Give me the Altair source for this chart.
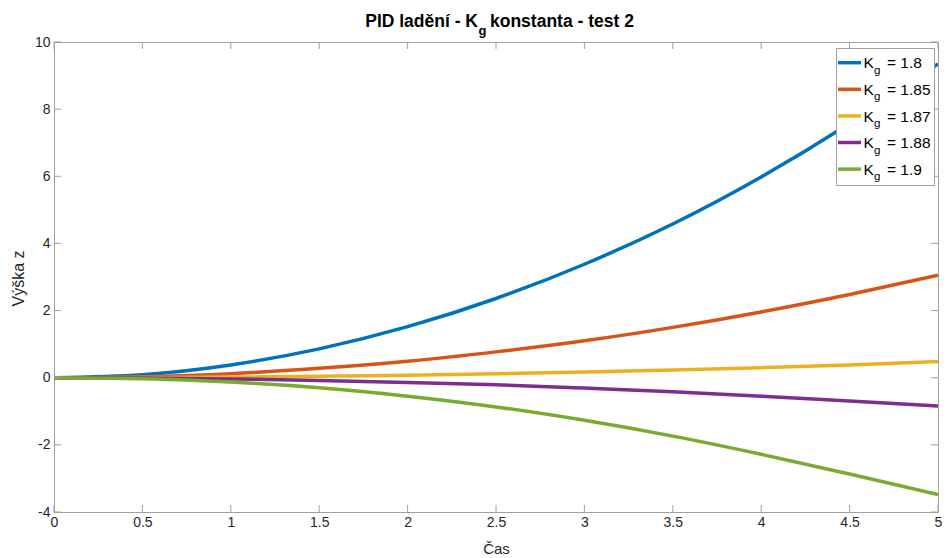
import altair as alt
import pandas as pd

# ---------------- data ----------------
t_values = [0, 0.5, 1, 1.5, 2, 2.5, 3, 3.5, 4, 4.5, 5]
kg_labels = ["1.8", "1.85", "1.87", "1.88", "1.9"]
z_kg_1_8 = [0, 0.09, 0.38, 0.86, 1.52, 2.36, 3.38, 4.58, 5.98, 7.57, 9.35]
z_kg_1_85 = [0, 0.03, 0.12, 0.28, 0.49, 0.77, 1.10, 1.50, 1.96, 2.48, 3.05]
z_kg_1_87 = [0, 0.005, 0.02, 0.04, 0.075, 0.12, 0.17, 0.23, 0.30, 0.38, 0.48]
z_kg_1_88 = [0, -0.01, -0.035, -0.08, -0.14, -0.21, -0.31, -0.42, -0.55, -0.69, -0.84]
z_kg_1_9 = [0, -0.03, -0.13, -0.30, -0.55, -0.87, -1.27, -1.74, -2.28, -2.87, -3.48]
series = [z_kg_1_8, z_kg_1_85, z_kg_1_87, z_kg_1_88, z_kg_1_9]
colors = ["#0072BD", "#D95319", "#EDB120", "#7E2F8E", "#77AC30"]
x_ticks = [0, 0.5, 1, 1.5, 2, 2.5, 3, 3.5, 4, 4.5, 5]
y_ticks = [-4, -2, 0, 2, 4, 6, 8, 10]

rows = []
for lab, ser in zip(kg_labels, series):
    for ti, zi in zip(t_values, ser):
        rows.append({"t": ti, "z": zi, "kg": lab})
df = pd.DataFrame(rows)

W, H = 884, 470
FONT = "Liberation Sans"
BOX = "#a0a0a0"
TXT = "#262626"

xscale = alt.Scale(domain=[0, 5], nice=False, zero=False)
yscale = alt.Scale(domain=[-4, 10], nice=False, zero=False)
xaxis = alt.Axis(values=x_ticks, title="Čas", labelPadding=3, labelFlush=False,
                 labelExpr="'' + datum.value",
                 titleY=41, titleBaseline="alphabetic")
yaxis = alt.Axis(values=y_ticks, title="Výška z", labelPadding=4, labelFlush=False,
                 labelExpr="'' + datum.value", titleFontSize=16,
                 titleX=-36, titleY=236, titleBaseline="middle")

lines = alt.Chart(df).mark_line(strokeWidth=3.5, interpolate="monotone", clip=True).encode(
    x=alt.X("t:Q", scale=xscale, axis=xaxis),
    y=alt.Y("z:Q", scale=yscale, axis=yaxis),
    color=alt.Color("kg:N", scale=alt.Scale(domain=kg_labels, range=colors), legend=None),
)

xt = pd.DataFrame({"t": x_ticks})
yt = pd.DataFrame({"z": y_ticks})
tick_b = alt.Chart(xt).mark_rule(color=BOX, strokeWidth=1).encode(
    x=alt.X("t:Q", scale=xscale, axis=xaxis), y=alt.value(H), y2=alt.value(H - 7))
tick_t = alt.Chart(xt).mark_rule(color=BOX, strokeWidth=1).encode(
    x=alt.X("t:Q", scale=xscale, axis=xaxis), y=alt.value(0), y2=alt.value(7))
tick_l = alt.Chart(yt).mark_rule(color=BOX, strokeWidth=1).encode(
    y=alt.Y("z:Q", scale=yscale, axis=yaxis), x=alt.value(0), x2=alt.value(7))
tick_r = alt.Chart(yt).mark_rule(color=BOX, strokeWidth=1).encode(
    y=alt.Y("z:Q", scale=yscale, axis=yaxis), x=alt.value(W), x2=alt.value(W - 7))

one = pd.DataFrame({"a": [0]})

layers = [lines, tick_b, tick_t, tick_l, tick_r]

# legend box (anchored to the right edge of the plot)
LX = W - 888  # offset relative to reference layout
layers.append(alt.Chart(one).mark_rect(fill="white", stroke=BOX, strokeWidth=1).encode(
    x=alt.value(786.5 + LX), x2=alt.value(884.5 + LX), y=alt.value(6.5), y2=alt.value(143.5)))

for i, (lab, col) in enumerate(zip(kg_labels, colors)):
    yc = 20.7 + i * 26.6
    layers.append(alt.Chart(one).mark_rule(color=col, strokeWidth=3.5).encode(
        x=alt.value(788 + LX), x2=alt.value(811 + LX), y=alt.value(yc)))
    layers.append(alt.Chart(one).mark_text(text="K", font=FONT, fontSize=15.5, color="black",
                                           align="left", baseline="alphabetic").encode(
        x=alt.value(813.5 + LX), y=alt.value(yc + 5.6)))
    layers.append(alt.Chart(one).mark_text(text="g", font=FONT, fontSize=11.5, color="black",
                                           align="left", baseline="alphabetic").encode(
        x=alt.value(824 + LX), y=alt.value(yc + 11)))
    layers.append(alt.Chart(one).mark_text(text="= " + lab, font=FONT, fontSize=15.5, color="black",
                                           align="left", baseline="alphabetic").encode(
        x=alt.value(837 + LX), y=alt.value(yc + 5.6)))

# title with subscript
layers.append(alt.Chart(one).mark_text(text="PID ladění - K", font=FONT, fontSize=17.5, fontWeight="bold",
                                       color="black", align="right", baseline="alphabetic").encode(
    x=alt.value(424), y=alt.value(-15.5)))
layers.append(alt.Chart(one).mark_text(text="g", font=FONT, fontSize=13, fontWeight="bold",
                                       color="black", align="left", baseline="alphabetic").encode(
    x=alt.value(424.5), y=alt.value(-7)))
layers.append(alt.Chart(one).mark_text(text="konstanta - test 2", font=FONT, fontSize=17.5, fontWeight="bold",
                                       color="black", align="left", baseline="alphabetic").encode(
    x=alt.value(436), y=alt.value(-15.5)))

chart = alt.layer(*layers).properties(
    width=W, height=H,
    autosize=alt.AutoSizeParams(type="none"),
    padding={"left": 46, "top": 34, "right": 4, "bottom": 44},
).configure_view(
    stroke=BOX, strokeWidth=1
).configure_axis(
    domain=False, ticks=False, grid=False,
    labelFont=FONT, labelFontSize=14, labelColor=TXT,
    titleFont=FONT, titleFontSize=15, titleFontWeight="normal", titleColor=TXT,
)

chart.save("out.html", embed_options={"renderer": "svg", "actions": False})
